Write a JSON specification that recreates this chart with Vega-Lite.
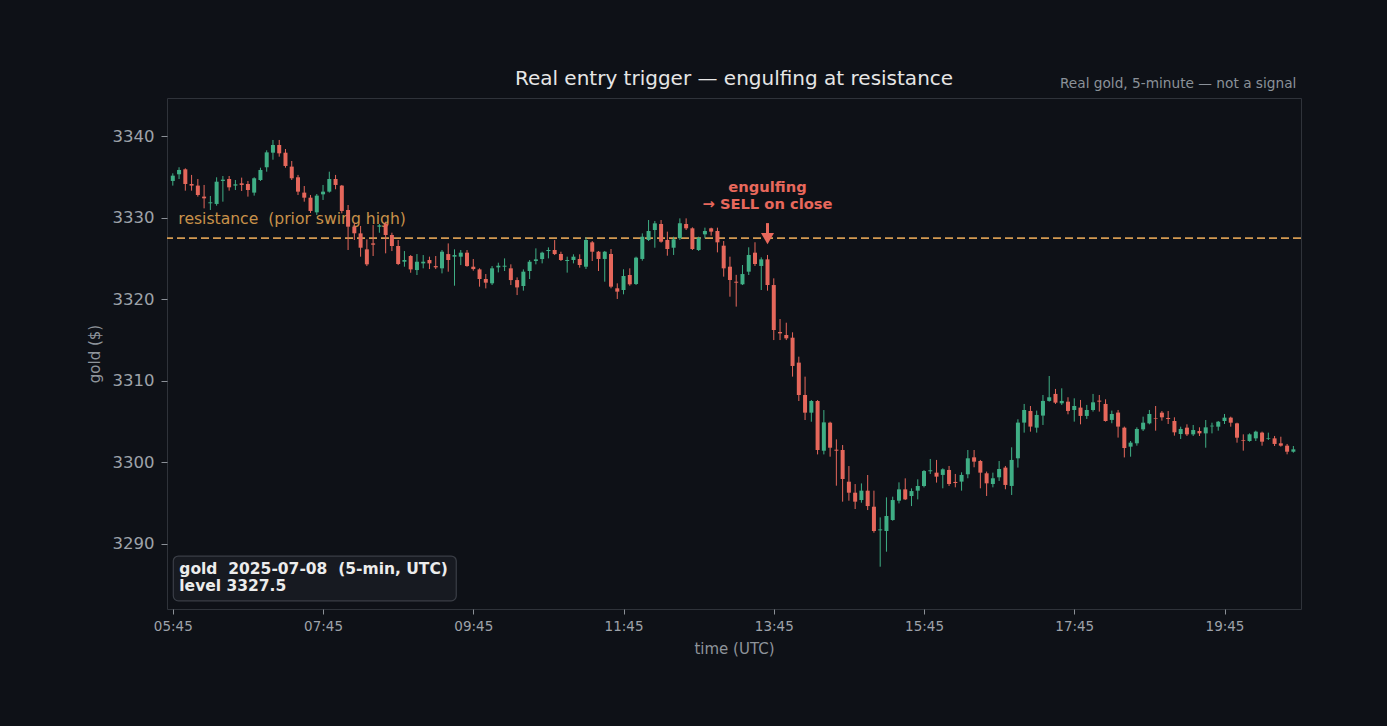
{
"$schema": "https://vega.github.io/schema/vega-lite/v6.json",
"width": 1134, "height": 511,
"autosize": {"type": "none"},
"padding": {"left": 167, "top": 98, "right": 86, "bottom": 117},
"background": "#0e1117",
"title": {"text": "Real entry trigger — engulfing at resistance", "anchor": "middle", "frame": "group", "fontSize": 20, "font": "DejaVu Sans", "fontWeight": "normal", "color": "#e6e6e6", "offset": -12},
"config": {
  "font": "DejaVu Sans",
  "view": {"stroke": "#2f333a", "strokeWidth": 1, "fill": "#0e1117"},
  "axis": {"domain": false, "grid": false, "tickColor": "#8b9097", "labelColor": "#9ea3aa", "titleColor": "#8e949b", "titleFontWeight": "normal", "labelFont": "DejaVu Sans", "titleFont": "DejaVu Sans"},
  "axisY": {"labelFontSize": 16.5, "titleFontSize": 15, "tickSize": 6, "labelPadding": 7, "titlePadding": 10},
  "axisX": {"labelFontSize": 13.5, "titleFontSize": 15, "tickSize": 5, "labelPadding": 5, "titlePadding": 9}
},
"data": {"values": [
{"t":"2025-07-08T05:45Z","o":3334.52,"h":3335.46,"l":3333.95,"c":3335.17},
{"t":"2025-07-08T05:50Z","o":3335.34,"h":3336.20,"l":3334.76,"c":3335.87},
{"t":"2025-07-08T05:55Z","o":3335.95,"h":3336.07,"l":3333.33,"c":3334.15},
{"t":"2025-07-08T06:00Z","o":3334.15,"h":3335.26,"l":3333.33,"c":3333.95},
{"t":"2025-07-08T06:05Z","o":3333.95,"h":3334.76,"l":3332.60,"c":3332.80},
{"t":"2025-07-08T06:10Z","o":3332.60,"h":3334.03,"l":3331.16,"c":3332.39},
{"t":"2025-07-08T06:15Z","o":3331.78,"h":3332.68,"l":3330.96,"c":3331.90},
{"t":"2025-07-08T06:20Z","o":3331.70,"h":3334.97,"l":3331.49,"c":3334.43},
{"t":"2025-07-08T06:25Z","o":3334.52,"h":3335.13,"l":3331.98,"c":3334.68},
{"t":"2025-07-08T06:30Z","o":3334.76,"h":3335.13,"l":3333.33,"c":3333.74},
{"t":"2025-07-08T06:35Z","o":3333.95,"h":3334.64,"l":3333.41,"c":3334.11},
{"t":"2025-07-08T06:40Z","o":3334.23,"h":3334.93,"l":3333.29,"c":3334.03},
{"t":"2025-07-08T06:45Z","o":3334.15,"h":3334.52,"l":3332.60,"c":3333.41},
{"t":"2025-07-08T06:50Z","o":3333.09,"h":3334.97,"l":3332.72,"c":3334.85},
{"t":"2025-07-08T06:55Z","o":3334.64,"h":3336.15,"l":3334.52,"c":3335.87},
{"t":"2025-07-08T07:00Z","o":3336.20,"h":3338.28,"l":3335.66,"c":3338.03},
{"t":"2025-07-08T07:05Z","o":3337.99,"h":3339.55,"l":3337.13,"c":3338.93},
{"t":"2025-07-08T07:10Z","o":3338.93,"h":3339.55,"l":3337.50,"c":3337.91},
{"t":"2025-07-08T07:15Z","o":3337.99,"h":3338.44,"l":3336.15,"c":3336.36},
{"t":"2025-07-08T07:20Z","o":3336.28,"h":3336.97,"l":3334.64,"c":3334.85},
{"t":"2025-07-08T07:25Z","o":3334.97,"h":3335.26,"l":3332.80,"c":3333.21},
{"t":"2025-07-08T07:30Z","o":3333.09,"h":3333.90,"l":3331.98,"c":3332.47},
{"t":"2025-07-08T07:35Z","o":3332.47,"h":3332.80,"l":3330.59,"c":3330.84},
{"t":"2025-07-08T07:40Z","o":3330.67,"h":3332.92,"l":3330.35,"c":3332.72},
{"t":"2025-07-08T07:45Z","o":3332.88,"h":3334.03,"l":3332.19,"c":3333.21},
{"t":"2025-07-08T07:50Z","o":3333.21,"h":3335.66,"l":3333.09,"c":3334.76},
{"t":"2025-07-08T07:55Z","o":3334.76,"h":3335.26,"l":3333.50,"c":3334.03},
{"t":"2025-07-08T08:00Z","o":3333.95,"h":3334.03,"l":3330.55,"c":3330.84},
{"t":"2025-07-08T08:05Z","o":3330.96,"h":3331.57,"l":3326.05,"c":3328.91},
{"t":"2025-07-08T08:10Z","o":3328.91,"h":3329.32,"l":3327.28,"c":3328.10},
{"t":"2025-07-08T08:15Z","o":3328.09,"h":3329.00,"l":3325.23,"c":3326.33},
{"t":"2025-07-08T08:20Z","o":3326.13,"h":3327.35,"l":3324.08,"c":3324.29},
{"t":"2025-07-08T08:25Z","o":3326.86,"h":3329.11,"l":3325.31,"c":3326.70},
{"t":"2025-07-08T08:30Z","o":3328.91,"h":3329.24,"l":3328.17,"c":3329.07},
{"t":"2025-07-08T08:35Z","o":3329.24,"h":3329.52,"l":3325.64,"c":3327.89},
{"t":"2025-07-08T08:40Z","o":3327.89,"h":3328.17,"l":3325.92,"c":3326.54},
{"t":"2025-07-08T08:45Z","o":3326.54,"h":3327.27,"l":3324.20,"c":3324.33},
{"t":"2025-07-08T08:50Z","o":3324.61,"h":3325.92,"l":3324.00,"c":3324.82},
{"t":"2025-07-08T08:55Z","o":3325.31,"h":3325.43,"l":3323.26,"c":3323.67},
{"t":"2025-07-08T09:00Z","o":3323.59,"h":3325.55,"l":3322.98,"c":3324.61},
{"t":"2025-07-08T09:05Z","o":3324.41,"h":3325.43,"l":3323.80,"c":3324.61},
{"t":"2025-07-08T09:10Z","o":3324.82,"h":3325.23,"l":3323.71,"c":3324.41},
{"t":"2025-07-08T09:15Z","o":3324.08,"h":3325.31,"l":3323.71,"c":3323.92},
{"t":"2025-07-08T09:20Z","o":3323.80,"h":3326.05,"l":3323.18,"c":3325.84},
{"t":"2025-07-08T09:25Z","o":3325.55,"h":3326.86,"l":3323.39,"c":3324.82},
{"t":"2025-07-08T09:30Z","o":3325.23,"h":3326.13,"l":3321.67,"c":3325.43},
{"t":"2025-07-08T09:35Z","o":3325.23,"h":3326.05,"l":3324.20,"c":3325.72},
{"t":"2025-07-08T09:40Z","o":3325.72,"h":3326.05,"l":3324.00,"c":3324.08},
{"t":"2025-07-08T09:45Z","o":3324.00,"h":3324.94,"l":3323.51,"c":3323.71},
{"t":"2025-07-08T09:50Z","o":3323.67,"h":3323.80,"l":3321.55,"c":3322.49},
{"t":"2025-07-08T09:55Z","o":3322.49,"h":3323.10,"l":3321.34,"c":3322.04},
{"t":"2025-07-08T10:00Z","o":3321.96,"h":3324.08,"l":3321.75,"c":3323.80},
{"t":"2025-07-08T10:05Z","o":3323.92,"h":3324.49,"l":3323.30,"c":3324.12},
{"t":"2025-07-08T10:10Z","o":3324.00,"h":3325.02,"l":3323.47,"c":3324.12},
{"t":"2025-07-08T10:15Z","o":3323.80,"h":3324.29,"l":3321.75,"c":3322.36},
{"t":"2025-07-08T10:20Z","o":3322.36,"h":3322.69,"l":3320.52,"c":3321.46},
{"t":"2025-07-08T10:25Z","o":3321.63,"h":3323.67,"l":3321.06,"c":3323.39},
{"t":"2025-07-08T10:30Z","o":3323.47,"h":3324.82,"l":3322.49,"c":3324.61},
{"t":"2025-07-08T10:35Z","o":3324.70,"h":3326.25,"l":3324.29,"c":3324.90},
{"t":"2025-07-08T10:40Z","o":3324.94,"h":3325.84,"l":3324.41,"c":3325.72},
{"t":"2025-07-08T10:45Z","o":3325.92,"h":3326.37,"l":3325.02,"c":3326.05},
{"t":"2025-07-08T10:50Z","o":3326.05,"h":3327.27,"l":3325.43,"c":3325.55},
{"t":"2025-07-08T10:55Z","o":3325.56,"h":3325.84,"l":3324.70,"c":3324.82},
{"t":"2025-07-08T11:00Z","o":3324.70,"h":3325.23,"l":3323.27,"c":3324.82},
{"t":"2025-07-08T11:05Z","o":3324.82,"h":3325.52,"l":3324.41,"c":3325.23},
{"t":"2025-07-08T11:10Z","o":3324.95,"h":3325.52,"l":3323.88,"c":3324.21},
{"t":"2025-07-08T11:15Z","o":3324.00,"h":3327.60,"l":3323.72,"c":3327.28},
{"t":"2025-07-08T11:20Z","o":3326.99,"h":3327.15,"l":3324.70,"c":3325.84},
{"t":"2025-07-08T11:25Z","o":3325.84,"h":3325.93,"l":3323.47,"c":3324.95},
{"t":"2025-07-08T11:30Z","o":3324.95,"h":3325.93,"l":3322.16,"c":3325.84},
{"t":"2025-07-08T11:35Z","o":3325.56,"h":3326.17,"l":3321.35,"c":3321.55},
{"t":"2025-07-08T11:40Z","o":3321.35,"h":3321.96,"l":3320.04,"c":3320.94},
{"t":"2025-07-08T11:45Z","o":3321.14,"h":3323.68,"l":3320.61,"c":3322.86},
{"t":"2025-07-08T11:50Z","o":3322.98,"h":3323.80,"l":3321.67,"c":3321.84},
{"t":"2025-07-08T11:55Z","o":3321.88,"h":3325.23,"l":3321.75,"c":3325.11},
{"t":"2025-07-08T12:00Z","o":3324.95,"h":3328.09,"l":3324.74,"c":3327.68},
{"t":"2025-07-08T12:05Z","o":3327.28,"h":3329.73,"l":3327.15,"c":3328.38},
{"t":"2025-07-08T12:10Z","o":3328.50,"h":3329.61,"l":3326.33,"c":3329.32},
{"t":"2025-07-08T12:15Z","o":3329.24,"h":3329.73,"l":3326.95,"c":3327.07},
{"t":"2025-07-08T12:20Z","o":3327.28,"h":3328.30,"l":3325.35,"c":3326.17},
{"t":"2025-07-08T12:25Z","o":3326.33,"h":3327.68,"l":3325.44,"c":3327.36},
{"t":"2025-07-08T12:30Z","o":3327.48,"h":3329.93,"l":3327.28,"c":3329.32},
{"t":"2025-07-08T12:35Z","o":3329.24,"h":3329.93,"l":3328.50,"c":3328.71},
{"t":"2025-07-08T12:40Z","o":3328.71,"h":3328.83,"l":3326.05,"c":3326.17},
{"t":"2025-07-08T12:45Z","o":3326.05,"h":3327.68,"l":3325.93,"c":3327.56},
{"t":"2025-07-08T12:50Z","o":3327.97,"h":3328.79,"l":3327.48,"c":3328.38},
{"t":"2025-07-08T12:55Z","o":3328.71,"h":3328.79,"l":3327.81,"c":3328.30},
{"t":"2025-07-08T13:00Z","o":3328.38,"h":3328.79,"l":3325.76,"c":3326.99},
{"t":"2025-07-08T13:05Z","o":3326.58,"h":3327.15,"l":3322.78,"c":3323.80},
{"t":"2025-07-08T13:10Z","o":3324.00,"h":3325.23,"l":3320.32,"c":3322.37},
{"t":"2025-07-08T13:15Z","o":3322.16,"h":3323.00,"l":3319.10,"c":3322.04},
{"t":"2025-07-08T13:20Z","o":3321.84,"h":3324.21,"l":3321.75,"c":3323.10},
{"t":"2025-07-08T13:25Z","o":3323.39,"h":3326.38,"l":3322.98,"c":3325.44},
{"t":"2025-07-08T13:30Z","o":3325.72,"h":3327.00,"l":3324.09,"c":3324.33},
{"t":"2025-07-08T13:35Z","o":3324.09,"h":3325.15,"l":3321.14,"c":3324.90},
{"t":"2025-07-08T13:40Z","o":3324.90,"h":3325.44,"l":3321.06,"c":3321.75},
{"t":"2025-07-08T13:45Z","o":3321.75,"h":3322.57,"l":3315.00,"c":3316.23},
{"t":"2025-07-08T13:50Z","o":3315.99,"h":3317.58,"l":3315.00,"c":3315.82},
{"t":"2025-07-08T13:55Z","o":3315.62,"h":3317.13,"l":3315.00,"c":3315.21},
{"t":"2025-07-08T14:00Z","o":3315.29,"h":3315.95,"l":3310.51,"c":3311.82},
{"t":"2025-07-08T14:05Z","o":3312.23,"h":3312.96,"l":3307.52,"c":3308.26},
{"t":"2025-07-08T14:10Z","o":3308.26,"h":3310.51,"l":3305.19,"c":3306.09},
{"t":"2025-07-08T14:15Z","o":3306.09,"h":3307.64,"l":3304.98,"c":3307.52},
{"t":"2025-07-08T14:20Z","o":3307.52,"h":3307.64,"l":3300.97,"c":3301.51},
{"t":"2025-07-08T14:25Z","o":3301.42,"h":3306.41,"l":3300.97,"c":3304.90},
{"t":"2025-07-08T14:30Z","o":3304.86,"h":3304.98,"l":3300.69,"c":3301.79},
{"t":"2025-07-08T14:35Z","o":3301.55,"h":3302.81,"l":3297.13,"c":3301.42},
{"t":"2025-07-08T14:40Z","o":3301.51,"h":3302.12,"l":3295.17,"c":3297.95},
{"t":"2025-07-08T14:45Z","o":3297.62,"h":3299.54,"l":3295.29,"c":3296.27},
{"t":"2025-07-08T14:50Z","o":3296.27,"h":3297.33,"l":3294.27,"c":3295.17},
{"t":"2025-07-08T14:55Z","o":3295.37,"h":3297.41,"l":3295.04,"c":3296.52},
{"t":"2025-07-08T15:00Z","o":3296.52,"h":3298.44,"l":3294.14,"c":3294.63},
{"t":"2025-07-08T15:05Z","o":3294.55,"h":3296.52,"l":3291.36,"c":3291.57},
{"t":"2025-07-08T15:10Z","o":3291.65,"h":3293.24,"l":3287.19,"c":3291.77},
{"t":"2025-07-08T15:15Z","o":3291.57,"h":3295.70,"l":3289.03,"c":3293.41},
{"t":"2025-07-08T15:20Z","o":3292.92,"h":3295.78,"l":3292.83,"c":3295.37},
{"t":"2025-07-08T15:25Z","o":3295.29,"h":3297.54,"l":3294.96,"c":3296.68},
{"t":"2025-07-08T15:30Z","o":3296.68,"h":3298.03,"l":3295.37,"c":3295.45},
{"t":"2025-07-08T15:35Z","o":3295.86,"h":3296.80,"l":3294.63,"c":3296.47},
{"t":"2025-07-08T15:40Z","o":3296.52,"h":3297.91,"l":3295.45,"c":3297.09},
{"t":"2025-07-08T15:45Z","o":3297.09,"h":3299.05,"l":3296.92,"c":3298.93},
{"t":"2025-07-08T15:50Z","o":3298.90,"h":3300.41,"l":3298.57,"c":3299.02},
{"t":"2025-07-08T15:55Z","o":3298.73,"h":3300.29,"l":3297.51,"c":3298.24},
{"t":"2025-07-08T16:00Z","o":3298.45,"h":3299.26,"l":3296.81,"c":3299.14},
{"t":"2025-07-08T16:05Z","o":3299.06,"h":3299.55,"l":3297.10,"c":3297.34},
{"t":"2025-07-08T16:10Z","o":3297.59,"h":3298.57,"l":3296.93,"c":3297.46},
{"t":"2025-07-08T16:15Z","o":3297.63,"h":3298.77,"l":3296.52,"c":3298.45},
{"t":"2025-07-08T16:20Z","o":3298.53,"h":3301.51,"l":3298.04,"c":3300.49},
{"t":"2025-07-08T16:25Z","o":3300.61,"h":3301.51,"l":3299.39,"c":3300.08},
{"t":"2025-07-08T16:30Z","o":3300.16,"h":3300.29,"l":3296.81,"c":3298.73},
{"t":"2025-07-08T16:35Z","o":3298.65,"h":3298.86,"l":3295.87,"c":3297.42},
{"t":"2025-07-08T16:40Z","o":3297.34,"h":3298.73,"l":3296.93,"c":3298.04},
{"t":"2025-07-08T16:45Z","o":3298.16,"h":3300.16,"l":3297.71,"c":3299.18},
{"t":"2025-07-08T16:50Z","o":3299.35,"h":3299.55,"l":3296.69,"c":3297.22},
{"t":"2025-07-08T16:55Z","o":3297.10,"h":3301.84,"l":3295.99,"c":3300.29},
{"t":"2025-07-08T17:00Z","o":3300.49,"h":3305.28,"l":3299.35,"c":3304.87},
{"t":"2025-07-08T17:05Z","o":3304.87,"h":3307.16,"l":3303.64,"c":3306.42},
{"t":"2025-07-08T17:10Z","o":3306.30,"h":3306.91,"l":3303.76,"c":3304.38},
{"t":"2025-07-08T17:15Z","o":3304.25,"h":3306.34,"l":3303.64,"c":3305.81},
{"t":"2025-07-08T17:20Z","o":3305.73,"h":3308.26,"l":3304.58,"c":3307.53},
{"t":"2025-07-08T17:25Z","o":3307.53,"h":3310.59,"l":3307.44,"c":3307.98},
{"t":"2025-07-08T17:30Z","o":3308.39,"h":3309.00,"l":3307.16,"c":3307.32},
{"t":"2025-07-08T17:35Z","o":3307.24,"h":3309.08,"l":3307.04,"c":3307.53},
{"t":"2025-07-08T17:40Z","o":3307.44,"h":3307.98,"l":3305.89,"c":3306.30},
{"t":"2025-07-08T17:45Z","o":3306.42,"h":3307.85,"l":3304.99,"c":3306.91},
{"t":"2025-07-08T17:50Z","o":3306.71,"h":3307.65,"l":3304.66,"c":3305.69},
{"t":"2025-07-08T17:55Z","o":3305.69,"h":3307.04,"l":3305.32,"c":3306.42},
{"t":"2025-07-08T18:00Z","o":3306.42,"h":3308.39,"l":3306.22,"c":3307.36},
{"t":"2025-07-08T18:05Z","o":3307.57,"h":3308.26,"l":3306.22,"c":3307.44},
{"t":"2025-07-08T18:10Z","o":3307.16,"h":3307.73,"l":3304.99,"c":3305.07},
{"t":"2025-07-08T18:15Z","o":3305.20,"h":3306.34,"l":3304.79,"c":3305.93},
{"t":"2025-07-08T18:20Z","o":3306.10,"h":3306.42,"l":3303.03,"c":3304.38},
{"t":"2025-07-08T18:25Z","o":3304.25,"h":3304.38,"l":3300.60,"c":3301.75},
{"t":"2025-07-08T18:30Z","o":3301.92,"h":3302.61,"l":3300.69,"c":3302.41},
{"t":"2025-07-08T18:35Z","o":3302.33,"h":3304.29,"l":3302.04,"c":3304.09},
{"t":"2025-07-08T18:40Z","o":3304.04,"h":3305.60,"l":3303.84,"c":3304.86},
{"t":"2025-07-08T18:45Z","o":3304.78,"h":3306.42,"l":3304.66,"c":3305.93},
{"t":"2025-07-08T18:50Z","o":3305.39,"h":3306.91,"l":3303.88,"c":3305.31},
{"t":"2025-07-08T18:55Z","o":3306.09,"h":3306.29,"l":3305.11,"c":3305.52},
{"t":"2025-07-08T19:00Z","o":3305.44,"h":3306.29,"l":3304.70,"c":3305.31},
{"t":"2025-07-08T19:05Z","o":3305.07,"h":3305.52,"l":3303.27,"c":3303.68},
{"t":"2025-07-08T19:10Z","o":3303.47,"h":3304.37,"l":3302.86,"c":3304.09},
{"t":"2025-07-08T19:15Z","o":3304.25,"h":3304.66,"l":3303.23,"c":3303.43},
{"t":"2025-07-08T19:20Z","o":3303.43,"h":3304.58,"l":3303.23,"c":3303.96},
{"t":"2025-07-08T19:25Z","o":3303.84,"h":3304.29,"l":3303.23,"c":3303.55},
{"t":"2025-07-08T19:30Z","o":3303.55,"h":3305.19,"l":3301.79,"c":3304.29},
{"t":"2025-07-08T19:35Z","o":3304.41,"h":3304.86,"l":3303.55,"c":3304.49},
{"t":"2025-07-08T19:40Z","o":3304.37,"h":3305.07,"l":3303.88,"c":3304.98},
{"t":"2025-07-08T19:45Z","o":3305.07,"h":3305.93,"l":3304.70,"c":3305.48},
{"t":"2025-07-08T19:50Z","o":3305.48,"h":3305.60,"l":3304.37,"c":3304.86},
{"t":"2025-07-08T19:55Z","o":3304.78,"h":3304.86,"l":3302.41,"c":3303.02},
{"t":"2025-07-08T20:00Z","o":3302.74,"h":3303.43,"l":3301.43,"c":3302.65},
{"t":"2025-07-08T20:05Z","o":3302.61,"h":3303.55,"l":3302.53,"c":3303.43},
{"t":"2025-07-08T20:10Z","o":3302.94,"h":3303.88,"l":3302.61,"c":3303.76},
{"t":"2025-07-08T20:15Z","o":3303.64,"h":3303.76,"l":3302.04,"c":3302.53},
{"t":"2025-07-08T20:20Z","o":3302.90,"h":3303.64,"l":3302.74,"c":3302.98},
{"t":"2025-07-08T20:25Z","o":3302.94,"h":3303.23,"l":3302.00,"c":3302.25},
{"t":"2025-07-08T20:30Z","o":3302.33,"h":3303.14,"l":3301.92,"c":3302.04},
{"t":"2025-07-08T20:35Z","o":3302.04,"h":3302.25,"l":3300.98,"c":3301.30},
{"t":"2025-07-08T20:40Z","o":3301.30,"h":3302.00,"l":3301.18,"c":3301.59}
]},
"layer": [
 {
  "data": {"values": [{"x1": "2025-07-08T05:45:24Z", "x2": "2025-07-08T09:31:24Z", "y1": 3288.5, "y2": 3283.0}]},
  "mark": {"type": "rect", "fill": "#171a21", "stroke": "#3a3e46", "strokeWidth": 1.2, "cornerRadius": 5},
  "encoding": {
    "x": {"field": "x1", "type": "temporal", "title": "time (UTC)"},
    "x2": {"field": "x2"},
    "y": {"field": "y1", "type": "quantitative", "title": "gold ($)"},
    "y2": {"field": "y2"}
  }
 },
 {
  "data": {"values": [{"level": 3327.5}]},
  "mark": {"type": "rule", "color": "#d49a52", "strokeWidth": 1.8, "strokeDash": [8, 4]},
  "encoding": {"y": {"field": "level", "type": "quantitative", "title": "gold ($)"}}
 },
 {
  "data": {"values": [{"t": "2025-07-08T05:49:24Z", "y": 3329.9, "label": "resistance\u00a0 (prior swing high)"}]},
  "mark": {"type": "text", "align": "left", "baseline": "middle", "fontSize": 15.6, "color": "#c8924a"},
  "encoding": {
    "x": {"field": "t", "type": "temporal", "title": "time (UTC)"},
    "y": {"field": "y", "type": "quantitative", "title": "gold ($)"},
    "text": {"field": "label"}
  }
 },
 {
  "mark": {"type": "rule", "strokeWidth": 1},
  "encoding": {
    "x": {"field": "t", "type": "temporal", "title": "time (UTC)",
      "scale": {"type": "utc", "padding": 0, "nice": false, "domain": [{"year": 2025, "month": 7, "date": 8, "hours": 5, "minutes": 40, "seconds": 22, "utc": true}, {"year": 2025, "month": 7, "date": 8, "hours": 20, "minutes": 46, "seconds": 6, "utc": true}]},
      "axis": {"format": "%H:%M", "values": [
        {"year": 2025, "month": 7, "date": 8, "hours": 5, "minutes": 45, "utc": true},
        {"year": 2025, "month": 7, "date": 8, "hours": 7, "minutes": 45, "utc": true},
        {"year": 2025, "month": 7, "date": 8, "hours": 9, "minutes": 45, "utc": true},
        {"year": 2025, "month": 7, "date": 8, "hours": 11, "minutes": 45, "utc": true},
        {"year": 2025, "month": 7, "date": 8, "hours": 13, "minutes": 45, "utc": true},
        {"year": 2025, "month": 7, "date": 8, "hours": 15, "minutes": 45, "utc": true},
        {"year": 2025, "month": 7, "date": 8, "hours": 17, "minutes": 45, "utc": true},
        {"year": 2025, "month": 7, "date": 8, "hours": 19, "minutes": 45, "utc": true}]}},
    "y": {"field": "l", "type": "quantitative", "title": "gold ($)",
      "scale": {"domain": [3282.0, 3344.7], "zero": false, "nice": false, "padding": 0},
      "axis": {"format": "d", "values": [3290, 3300, 3310, 3320, 3330, 3340]}},
    "y2": {"field": "h"},
    "color": {"condition": {"test": "datum.c >= datum.o", "value": "#3fae85"}, "value": "#e5675b"}
  }
 },
 {
  "mark": {"type": "bar", "size": 4},
  "encoding": {
    "x": {"field": "t", "type": "temporal", "title": "time (UTC)"},
    "y": {"field": "o", "type": "quantitative", "title": "gold ($)"},
    "y2": {"field": "c"},
    "color": {"condition": {"test": "datum.c >= datum.o", "value": "#3fae85"}, "value": "#e5675b"}
  }
 },
 {
  "data": {"values": [{"t": "2025-07-08T13:40Z", "y1": 3329.35, "y2": 3327.6}]},
  "mark": {"type": "rule", "color": "#e8685c", "strokeWidth": 3},
  "encoding": {
    "x": {"field": "t", "type": "temporal", "title": "time (UTC)"},
    "y": {"field": "y1", "type": "quantitative", "title": "gold ($)"},
    "y2": {"field": "y2"}
  }
 },
 {
  "data": {"values": [{"t": "2025-07-08T13:40Z", "y": 3327.44}]},
  "mark": {"type": "point", "shape": "triangle-down", "filled": true, "size": 169, "color": "#e8685c", "opacity": 1},
  "encoding": {
    "x": {"field": "t", "type": "temporal", "title": "time (UTC)"},
    "y": {"field": "y", "type": "quantitative", "title": "gold ($)"}
  }
 },
 {
  "data": {"values": [{"t": "2025-07-08T13:40Z", "y": 3333.66, "label": "engulfing"}, {"t": "2025-07-08T13:40Z", "y": 3331.57, "label": "→ SELL on close"}]},
  "mark": {"type": "text", "align": "center", "baseline": "middle", "fontSize": 14.7, "fontWeight": "bold", "color": "#e8685c"},
  "encoding": {
    "x": {"field": "t", "type": "temporal", "title": "time (UTC)"},
    "y": {"field": "y", "type": "quantitative", "title": "gold ($)"},
    "text": {"field": "label"}
  }
 },
 {
  "data": {"values": [{"t": "2025-07-08T05:50:12Z", "y": 3286.87, "label": "gold\u00a0 2025-07-08\u00a0 (5-min, UTC)"}, {"t": "2025-07-08T05:50:12Z", "y": 3284.88, "label": "level 3327.5"}]},
  "mark": {"type": "text", "align": "left", "baseline": "middle", "fontSize": 15.5, "fontWeight": "bold", "color": "#ececec"},
  "encoding": {
    "x": {"field": "t", "type": "temporal", "title": "time (UTC)"},
    "y": {"field": "y", "type": "quantitative", "title": "gold ($)"},
    "text": {"field": "label"}
  }
 },
 {
  "data": {"values": [{"t": "2025-07-08T20:42:24Z", "y": 3346.43, "label": "Real gold, 5-minute — not a signal"}]},
  "mark": {"type": "text", "align": "right", "baseline": "middle", "fontSize": 13.7, "color": "#8b9199"},
  "encoding": {
    "x": {"field": "t", "type": "temporal", "title": "time (UTC)"},
    "y": {"field": "y", "type": "quantitative", "title": "gold ($)"},
    "text": {"field": "label"}
  }
 }
]
}
